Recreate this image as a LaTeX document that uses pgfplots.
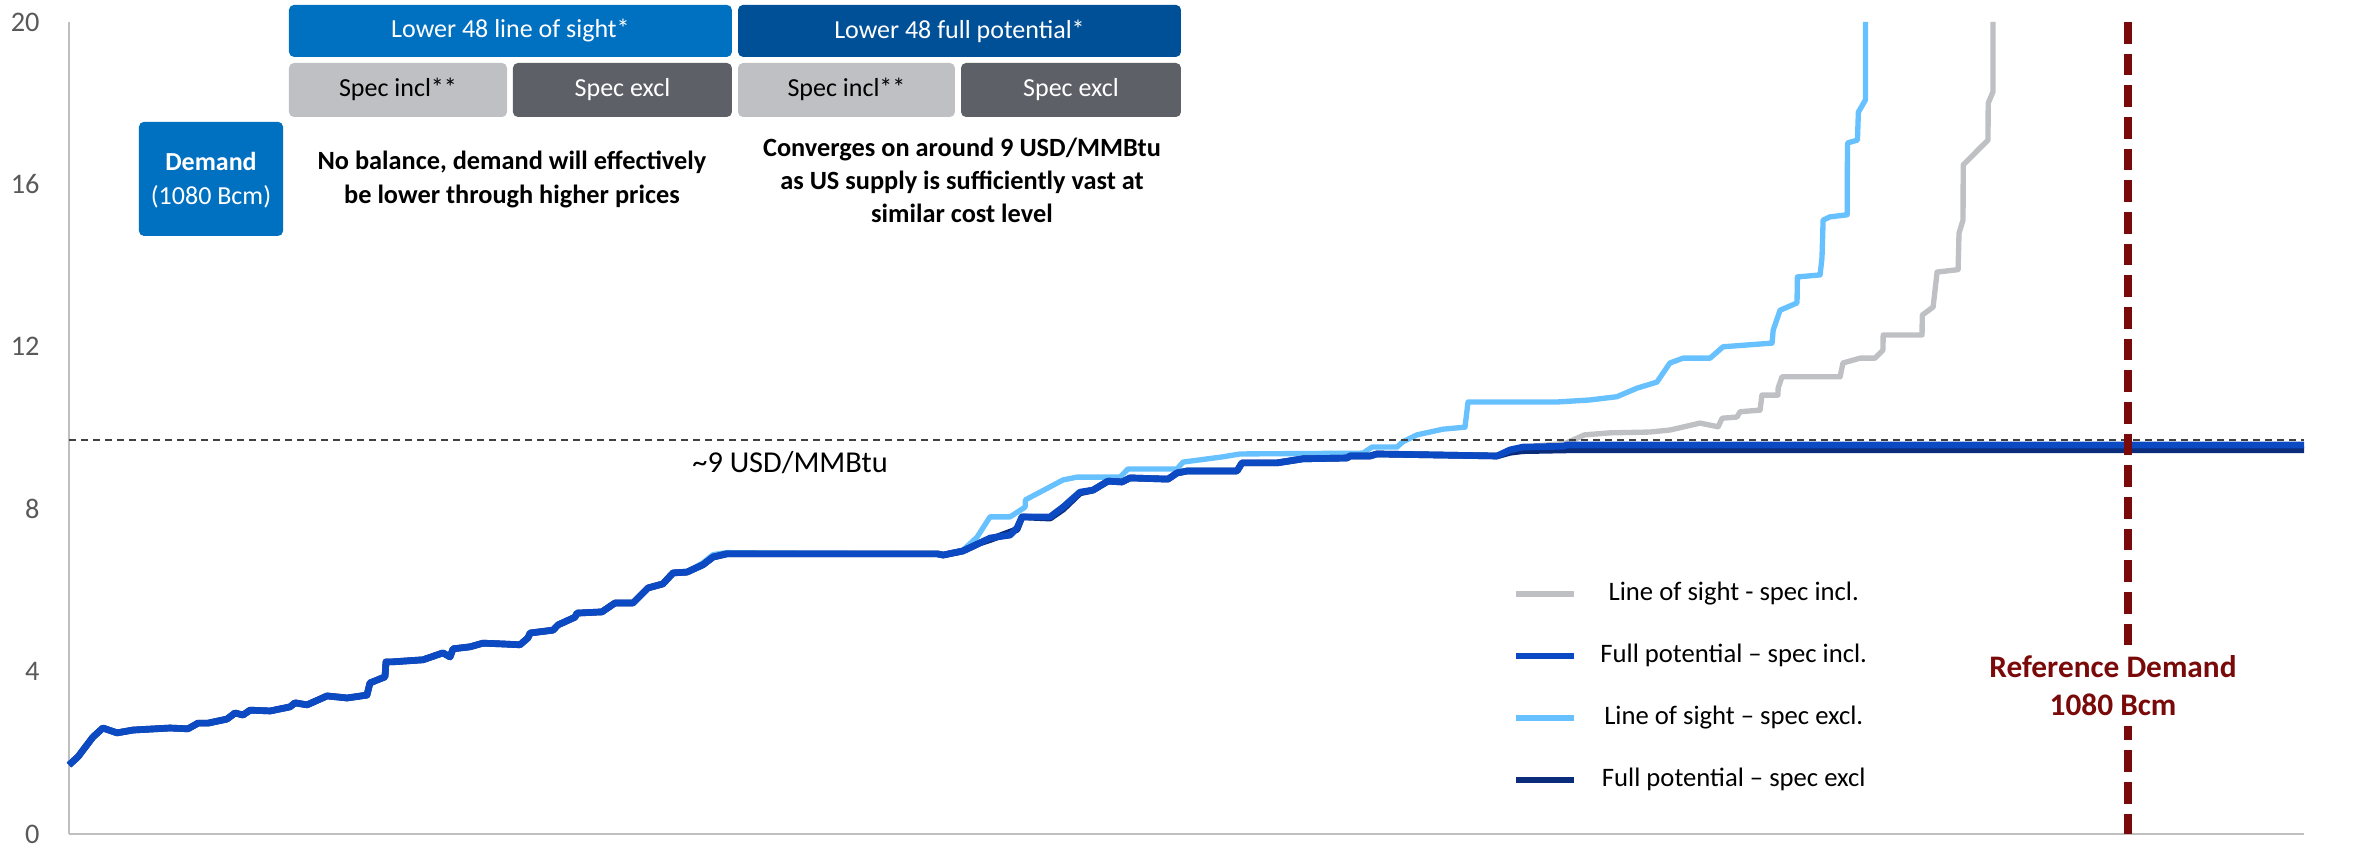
\documentclass[border=0pt]{standalone}
\usepackage{fontspec}
\setmainfont{Carlito}
\usepackage{pgfplots}
\pgfplotsset{compat=1.18}
\usetikzlibrary{calc}

\definecolor{grayL}{RGB}{191,192,196}
\definecolor{lightB}{RGB}{104,193,255}
\definecolor{midB}{RGB}{12,74,196}
\definecolor{navyB}{RGB}{10,44,122}
\definecolor{boxA}{RGB}{0,112,192}
\definecolor{boxB}{RGB}{0,80,152}
\definecolor{boxLG}{RGB}{191,192,196}
\definecolor{boxDG}{RGB}{94,96,104}
\definecolor{refred}{RGB}{122,10,10}
\definecolor{tickgray}{RGB}{89,89,89}
\definecolor{axisgray}{RGB}{191,191,191}
\definecolor{dashgray}{RGB}{64,64,64}

\begin{document}
\begin{tikzpicture}
\begin{axis}[
    name=ax,
    scale only axis,
    width=670.5pt, height=243.6pt,
    xmin=0, xmax=1172.6, ymin=0, ymax=20,
    axis lines=left,
    axis line style={-, draw=axisgray, line width=0.5pt},
    xtick=\empty,
    ytick={0,4,8,12,16,20},
    major tick length=0pt,
    /pgf/number format/assume math mode=true,
    yticklabel style={font=\fontsize{8.5}{10}\selectfont, text=tickgray, xshift=-5.3pt},
    clip=false,
    legend cell align=center,
    legend style={draw=none, fill=none, at={(axis cs:757.3,6.39)}, anchor=north west,
        inner xsep=0pt, inner ysep=0pt, row sep=7.6pt, column sep=5pt,
        font=\fontsize{8}{9.6}\selectfont},
    legend image code/.code={\draw[#1] (0pt,0pt) -- (17.4pt,0pt);},
]

% line of sight - spec incl.
\addplot[color=grayL, line width=1.6pt, line join=round, forget plot] table {
0 1.70
4.7 1.90
12.6 2.39
17.8 2.61
25.2 2.49
33.6 2.56
53.0 2.61
62.4 2.59
67.7 2.73
72.9 2.73
82.9 2.83
87.1 2.98
91.3 2.93
95.0 3.05
105.5 3.03
115.9 3.13
118.6 3.23
124.9 3.18
135.4 3.40
145.9 3.35
156.3 3.42
157.9 3.72
165.8 3.87
166.3 4.24
170.0 4.24
185.7 4.29
196.2 4.46
199.9 4.36
201.5 4.56
210.4 4.61
217.2 4.70
227.7 4.68
236.6 4.66
240.8 4.83
241.9 4.95
253.9 5.02
256.6 5.15
265.5 5.34
266.5 5.44
279.6 5.47
286.5 5.69
295.9 5.69
303.8 6.06
311.6 6.16
316.9 6.43
324.2 6.45
332.6 6.63
337.9 6.82
345.2 6.90
366.2 6.90
455.4 6.90
458.6 6.87
469.0 6.97
478.0 7.17
483.2 7.29
493.7 7.36
497.4 7.54
500.0 7.81
514.7 7.81
521.5 8.05
530.4 8.42
537.3 8.47
545.1 8.69
552.5 8.67
556.7 8.77
576.6 8.74
581.3 8.89
586.6 8.94
612.8 8.94
615.4 9.14
633.8 9.14
647.4 9.24
670.5 9.26
672.1 9.31
682.6 9.31
686.2 9.36
749.2 9.31
756.0 9.46
762.8 9.53
785.0 9.62
795.1 9.83
808.5 9.88
829.5 9.90
840.0 9.95
855.7 10.12
865.2 10.03
867.3 10.24
875.1 10.27
876.7 10.40
887.2 10.44
888.2 10.81
896.6 10.81
896.7 10.98
898.7 11.26
929.2 11.26
930.7 11.60
939.7 11.72
947.5 11.72
951.7 11.92
951.8 12.29
972.2 12.29
972.3 12.78
978.0 12.98
980.1 13.84
991.1 13.90
991.6 14.80
993.7 15.12
993.8 16.48
1003.1 16.92
1006.8 17.09
1006.9 18.00
1009.4 18.28
1009.4 20.00
};

% line of sight - spec excl.
\addplot[color=lightB, line width=1.6pt, line join=round, forget plot] table {
0 1.70
4.7 1.90
12.6 2.39
17.8 2.61
25.2 2.49
33.6 2.56
53.0 2.61
62.4 2.59
67.7 2.73
72.9 2.73
82.9 2.83
87.1 2.98
91.3 2.93
95.0 3.05
105.5 3.03
115.9 3.13
118.6 3.23
124.9 3.18
135.4 3.40
145.9 3.35
156.3 3.42
157.9 3.72
165.8 3.87
166.3 4.24
170.0 4.24
185.7 4.29
196.2 4.46
199.9 4.36
201.5 4.56
210.4 4.61
217.2 4.70
227.7 4.68
236.6 4.66
240.8 4.83
241.9 4.95
253.9 5.02
256.6 5.15
265.5 5.34
266.5 5.44
279.6 5.47
286.5 5.69
295.9 5.69
303.8 6.06
311.6 6.16
316.9 6.43
324.2 6.45
332.6 6.68
337.9 6.88
345.2 6.93
366.2 6.92
455.4 6.90
458.6 6.87
469.0 6.99
476.4 7.31
483.2 7.81
493.7 7.81
501.6 8.05
501.8 8.23
514.7 8.55
521.5 8.72
528.9 8.79
551.4 8.79
555.6 8.99
581.3 8.99
584.5 9.16
605.5 9.29
614.4 9.36
678.9 9.38
683.6 9.53
696.7 9.53
699.8 9.66
707.2 9.83
720.8 9.97
732.4 10.02
734.0 10.64
780.7 10.64
797.9 10.69
812.1 10.77
822.6 10.98
833.1 11.13
839.9 11.60
846.8 11.72
861.0 11.72
867.8 12.00
893.5 12.09
894.1 12.41
897.7 12.90
906.6 13.08
906.8 13.72
918.7 13.77
919.7 14.19
920.3 15.12
923.9 15.20
932.9 15.25
933.0 16.28
933.1 17.02
938.3 17.09
938.8 17.78
942.5 18.08
942.5 20.00
};

% full potential - spec excl
\addplot[color=navyB, line width=2pt, line join=round, forget plot] table {
0 1.70
4.7 1.90
12.6 2.39
17.8 2.61
25.2 2.49
33.6 2.56
53.0 2.61
62.4 2.59
67.7 2.73
72.9 2.73
82.9 2.83
87.1 2.98
91.3 2.93
95.0 3.05
105.5 3.03
115.9 3.13
118.6 3.23
124.9 3.18
135.4 3.40
145.9 3.35
156.3 3.42
157.9 3.72
165.8 3.87
166.3 4.24
170.0 4.24
185.7 4.29
196.2 4.46
199.9 4.36
201.5 4.56
210.4 4.61
217.2 4.70
227.7 4.68
236.6 4.66
240.8 4.83
241.9 4.95
253.9 5.02
256.6 5.15
265.5 5.34
266.5 5.44
279.6 5.47
286.5 5.69
295.9 5.69
303.8 6.06
311.6 6.16
316.9 6.43
324.2 6.45
332.6 6.63
337.9 6.82
345.2 6.90
366.2 6.90
455.4 6.90
458.6 6.87
469.0 6.97
478.0 7.17
483.2 7.25
497.4 7.50
500.0 7.81
514.7 7.78
521.5 8.00
530.4 8.40
537.3 8.47
545.1 8.69
552.5 8.67
556.7 8.77
576.6 8.74
581.3 8.89
586.6 8.94
612.8 8.94
615.4 9.14
633.8 9.14
647.4 9.24
670.5 9.26
672.1 9.31
682.6 9.31
686.2 9.36
749.2 9.31
756.0 9.40
762.8 9.44
785.9 9.46
1172.6 9.46
};

% full potential - spec incl.
\addplot[color=midB, line width=2pt, line join=round, forget plot] table {
0 1.70
4.7 1.90
12.6 2.39
17.8 2.61
25.2 2.49
33.6 2.56
53.0 2.61
62.4 2.59
67.7 2.73
72.9 2.73
82.9 2.83
87.1 2.98
91.3 2.93
95.0 3.05
105.5 3.03
115.9 3.13
118.6 3.23
124.9 3.18
135.4 3.40
145.9 3.35
156.3 3.42
157.9 3.72
165.8 3.87
166.3 4.24
170.0 4.24
185.7 4.29
196.2 4.46
199.9 4.36
201.5 4.56
210.4 4.61
217.2 4.70
227.7 4.68
236.6 4.66
240.8 4.83
241.9 4.95
253.9 5.02
256.6 5.15
265.5 5.34
266.5 5.44
279.6 5.47
286.5 5.69
295.9 5.69
303.8 6.06
311.6 6.16
316.9 6.43
324.2 6.45
332.6 6.63
337.9 6.82
345.2 6.90
366.2 6.90
455.4 6.90
458.6 6.87
469.0 6.97
478.0 7.17
483.2 7.29
493.7 7.36
497.4 7.54
500.0 7.81
514.7 7.81
521.5 8.05
530.4 8.42
537.3 8.47
545.1 8.69
552.5 8.67
556.7 8.77
576.6 8.74
581.3 8.89
586.6 8.94
612.8 8.94
615.4 9.14
633.8 9.14
647.4 9.24
670.5 9.26
672.1 9.31
682.6 9.31
686.2 9.36
749.2 9.31
756.0 9.46
762.8 9.53
783.8 9.55
785.9 9.58
1172.6 9.58
};

% ~9 USD/MMBtu reference level
\addplot[color=dashgray, line width=0.45pt, dash pattern=on 2.2pt off 1.4pt, forget plot]
    coordinates {(0,9.7) (1172.6,9.7)};

% reference demand
\addplot[color=refred, line width=2.4pt, dash pattern=on 6.5pt off 3pt, forget plot]
    coordinates {(1080,20) (1080,0)};

\addlegendimage{color=grayL, line width=1.8pt}
\addlegendentry{Line of sight - spec incl.}
\addlegendimage{color=midB, line width=1.8pt}
\addlegendentry{Full potential -- spec incl.}
\addlegendimage{color=lightB, line width=1.8pt}
\addlegendentry{Line of sight -- spec excl.}
\addlegendimage{color=navyB, line width=1.8pt}
\addlegendentry{Full potential -- spec excl}

\node[fill=white, inner xsep=1pt, inner ysep=3pt, text=refred, align=center,
    font=\bfseries\fontsize{9.4}{11.4}\selectfont] at (axis cs:1072.4,3.65)
    {Reference Demand\\1080 Bcm};

\node[font=\fontsize{9.1}{10}\selectfont] at (axis cs:378.3,9.14) {\textasciitilde9 USD/MMBtu};

% header boxes
\fill[boxA, rounded corners=1.5pt] (axis cs:115.4,20.42) rectangle (axis cs:347.8,19.14);
\fill[boxB, rounded corners=1.5pt] (axis cs:351.0,20.42) rectangle (axis cs:583.4,19.14);
\fill[boxLG, rounded corners=1.5pt] (axis cs:115.4,18.99) rectangle (axis cs:229.8,17.66);
\fill[boxDG, rounded corners=1.5pt] (axis cs:232.9,18.99) rectangle (axis cs:347.8,17.66);
\fill[boxLG, rounded corners=1.5pt] (axis cs:351.0,18.99) rectangle (axis cs:464.8,17.66);
\fill[boxDG, rounded corners=1.5pt] (axis cs:468.0,18.99) rectangle (axis cs:583.4,17.66);
\fill[boxA, rounded corners=1.5pt] (axis cs:36.7,17.54) rectangle (axis cs:112.3,14.73);

\node[text=white, font=\fontsize{7.8}{9}\selectfont] at (axis cs:231.6,19.78) {Lower 48 line of sight*};
\node[text=white, font=\fontsize{7.8}{9}\selectfont] at (axis cs:467.2,19.78) {Lower 48 full potential*};
\node[text=black, font=\fontsize{7.8}{9}\selectfont] at (axis cs:172.6,18.33) {Spec incl**};
\node[text=white, font=\fontsize{7.8}{9}\selectfont] at (axis cs:290.4,18.33) {Spec excl};
\node[text=black, font=\fontsize{7.8}{9}\selectfont] at (axis cs:407.9,18.33) {Spec incl**};
\node[text=white, font=\fontsize{7.8}{9}\selectfont] at (axis cs:525.7,18.33) {Spec excl};
\node[text=white, align=center, font=\fontsize{7.8}{10.2}\selectfont] at (axis cs:74.5,16.11)
    {\textbf{Demand}\\(1080 Bcm)};

\node[align=center, font=\bfseries\fontsize{7.9}{10.2}\selectfont] at (axis cs:232.4,16.11)
    {No balance, demand will effectively\\be lower through higher prices};
\node[align=center, font=\bfseries\fontsize{7.9}{9.9}\selectfont] at (axis cs:468.5,16.11)
    {Converges on around 9 USD/MMBtu\\as US supply is sufficiently vast at\\similar cost level};

\end{axis}
\pgfresetboundingbox
\path[use as bounding box] ($(ax.south west)+(-20.7pt,-4.8pt)$) rectangle ($(ax.north east)+(17.4pt,6.6pt)$);
\end{tikzpicture}
\end{document}
